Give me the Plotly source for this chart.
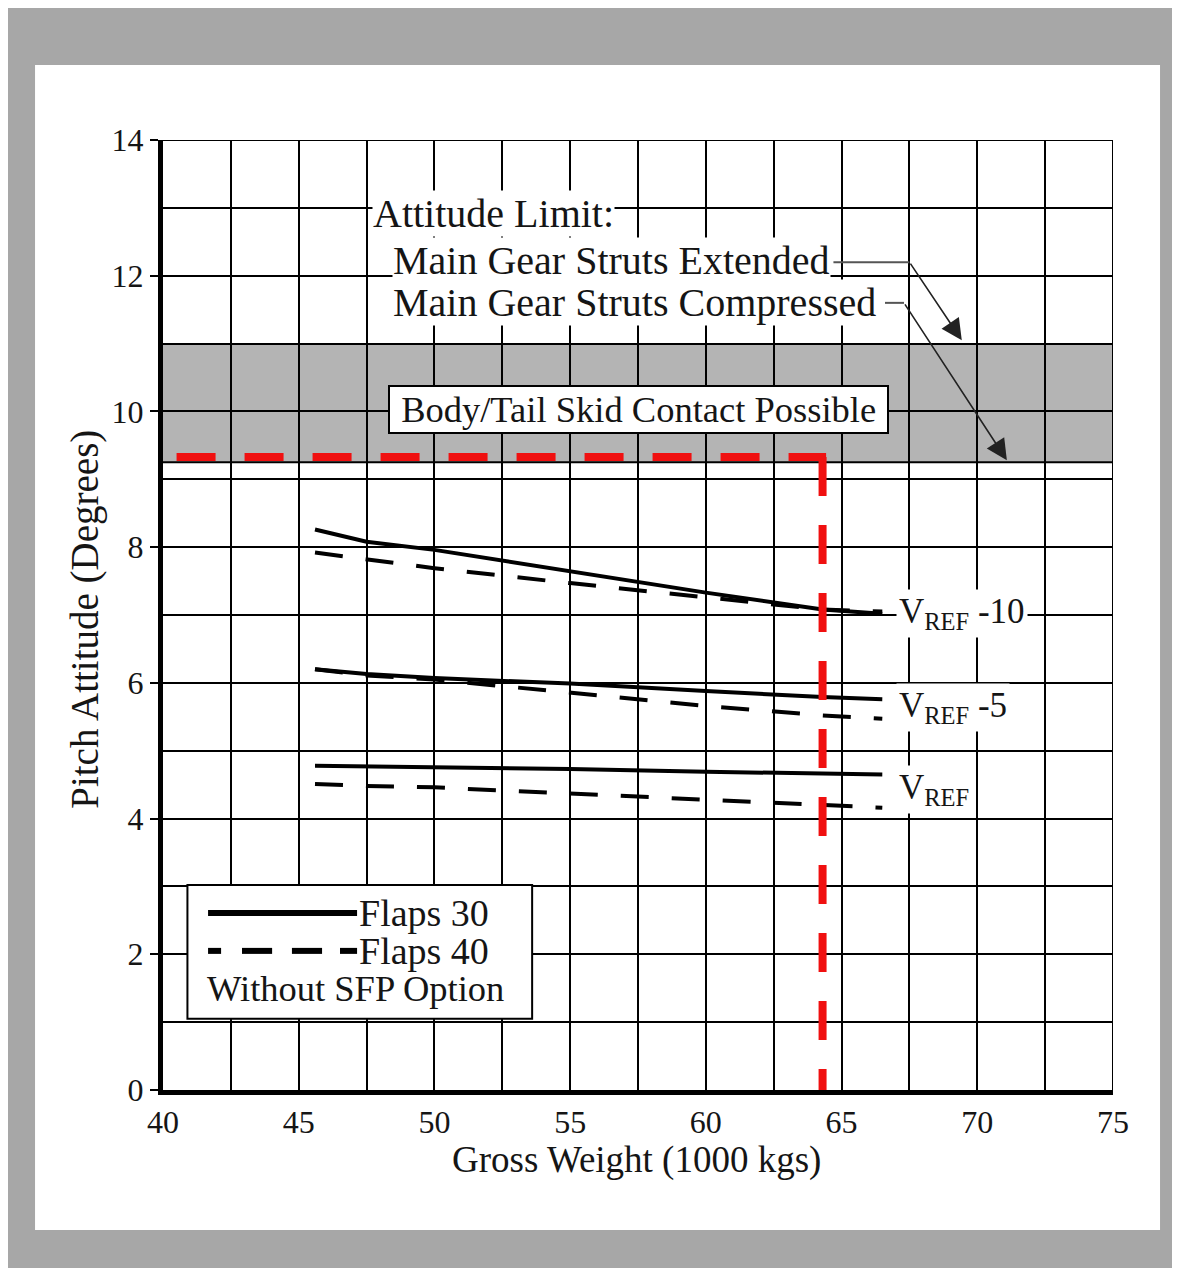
import plotly.graph_objects as go

# ---------------- data ----------------
weights = [45.6, 47.5, 50, 55, 60, 64.3, 66.5]          # Gross weight (1000 kg)
f30_vref10 = [8.26, 8.08, 7.96, 7.65, 7.33, 7.08, 7.02]
f40_vref10 = [7.92, 7.82, 7.69, 7.47, 7.26, 7.08, 7.05]
f30_vref5 = [6.20, 6.13, 6.07, 5.99, 5.88, 5.79, 5.76]
f40_vref5 = [6.20, 6.11, 6.05, 5.85, 5.66, 5.52, 5.47]
f30_vref = [4.78, 4.77, 4.76, 4.73, 4.69, 4.66, 4.65]
f40_vref = [4.51, 4.48, 4.46, 4.37, 4.27, 4.19, 4.16]

limit_pitch = 9.33          # pitch attitude limit (deg)
limit_weight = 64.3         # gross weight (1000 kg)
limit_x_start = 40.5
limit_x_end = 64.43

band_low, band_high = 9.25, 11.0

x_ticks = [40, 45, 50, 55, 60, 65, 70, 75]
y_ticks = [0, 2, 4, 6, 8, 10, 12, 14]

curve_labels = ["V<sub>REF</sub> -10", "V<sub>REF</sub> -5", "V<sub>REF</sub>"]
curve_label_y = [7.02, 5.63, 4.43]

FONT = "Liberation Serif"
INK = "#151515"

fig = go.Figure()

solid = dict(color="black", width=4)
dashed = dict(color="black", width=4, dash="28px,23px")
for ys, ln in [(f30_vref10, solid), (f40_vref10, dashed),
               (f30_vref5, solid), (f40_vref5, dashed),
               (f30_vref, solid), (f40_vref, dashed)]:
    fig.add_trace(go.Scatter(x=weights, y=ys, mode="lines", line=ln,
                             showlegend=False, hoverinfo="skip"))

red = dict(color="#f01010", width=8, dash="39px,29px")
fig.add_trace(go.Scatter(x=[limit_x_start, limit_x_end], y=[limit_pitch, limit_pitch],
                         mode="lines", line=red, showlegend=False, hoverinfo="skip"))
fig.add_trace(go.Scatter(x=[limit_weight, limit_weight], y=[limit_pitch, 0],
                         mode="lines", line=red, showlegend=False, hoverinfo="skip"))

shapes = []
# white panel
shapes.append(dict(type="rect", xref="paper", yref="paper",
                   x0=-0.1347, x1=1.0495, y0=-0.1474, y1=1.0789,
                   fillcolor="white", line=dict(width=0), layer="below"))
# grey band
shapes.append(dict(type="rect", xref="x", yref="y", x0=40, x1=75,
                   y0=band_low, y1=band_high, fillcolor="#b4b4b4",
                   line=dict(width=0), layer="below"))
shapes.append(dict(type="line", xref="x", yref="y", x0=40, x1=75,
                   y0=band_low, y1=band_low, line=dict(color="black", width=2),
                   layer="between"))
# top / right borders
shapes.append(dict(type="line", xref="x", yref="y", x0=40, x1=75, y0=14, y1=14,
                   line=dict(color="black", width=2), layer="between"))
shapes.append(dict(type="line", xref="x", yref="y", x0=75, x1=75, y0=0, y1=14,
                   line=dict(color="black", width=2), layer="between"))
# connectors for attitude limit arrows
shapes.append(dict(type="line", xref="x", yref="y", x0=64.7, x1=67.5, y0=12.2, y1=12.2,
                   line=dict(color="#555555", width=2), layer="above"))
shapes.append(dict(type="line", xref="x", yref="y", x0=66.6, x1=67.3, y0=11.6, y1=11.6,
                   line=dict(color="#555555", width=2), layer="above"))
# legend box
shapes.append(dict(type="rect", xref="x", yref="y", x0=40.9, x1=53.6, y0=1.05, y1=3.02,
                   fillcolor="white", line=dict(color="black", width=2), layer="above"))
shapes.append(dict(type="line", xref="x", yref="y", x0=41.66, x1=47.15, y0=2.61, y1=2.61,
                   line=dict(color="black", width=6), layer="above"))
for a, b in [(41.66, 42.14), (42.91, 44.02), (44.75, 45.86), (46.52, 47.15)]:
    shapes.append(dict(type="line", xref="x", yref="y", x0=a, x1=b, y0=2.05, y1=2.05,
                       line=dict(color="black", width=6), layer="above"))

ann = []
def txt(x, y, s, size=36, xanchor="left", **kw):
    d = dict(x=x, y=y, xref="x", yref="y", text=s, showarrow=False,
             xanchor=xanchor, yanchor="middle",
             font=dict(family=FONT, size=size, color=INK), **kw)
    ann.append(d)

txt(47.7, 12.92, "Attitude Limit:", size=40, bgcolor="white", borderpad=0)
txt(48.44, 12.22, "Main Gear Struts Extended", size=40, bgcolor="white", borderpad=0)
txt(48.44, 11.6, "Main Gear Struts Compressed", size=40, bgcolor="white", borderpad=0)
txt(57.5, 10.03, "\u00a0Body/Tail Skid Contact Possible\u00a0", size=36.5, xanchor="center",
    bgcolor="white", bordercolor="black", borderwidth=2, borderpad=2)
for s, yv in zip(curve_labels, curve_label_y):
    txt(67.0, yv, s, size=35, bgcolor="white", borderpad=2)
txt(47.15, 2.61, "Flaps 30", size=38)
txt(47.15, 2.05, "Flaps 40", size=38)
txt(41.55, 1.5, "Without SFP Option", size=36.5)

# arrows
for (tx, ty, sx, sy) in [(69.43, 11.05, 67.5, 12.2), (71.09, 9.28, 67.3, 11.6)]:
    ann.append(dict(x=tx, y=ty, ax=sx, ay=sy, xref="x", yref="y", axref="x", ayref="y",
                    text="", showarrow=True, arrowhead=2, arrowsize=2.6,
                    arrowwidth=1.6, arrowcolor="#222222"))

# axis titles
ann.append(dict(x=0.498, y=-0.0737, xref="paper", yref="paper",
                text="Gross Weight (1000 kgs)", showarrow=False,
                xanchor="center", yanchor="middle",
                font=dict(family=FONT, size=37, color=INK)))
ann.append(dict(x=-0.0821, y=0.495, xref="paper", yref="paper",
                text="Pitch Attitude (Degrees)", showarrow=False, textangle=-90,
                xanchor="center", yanchor="middle",
                font=dict(family=FONT, size=39, color=INK)))

fig.update_layout(
    width=1172, height=1260, autosize=False,
    margin=dict(l=155, r=67, t=132, b=178),
    paper_bgcolor="#a7a7a7", plot_bgcolor="white",
    shapes=shapes, annotations=ann, showlegend=False,
    xaxis=dict(range=[40, 75], tickvals=x_ticks, ticktext=[str(v) for v in x_ticks],
               showgrid=True, gridcolor="black", gridwidth=2, zeroline=False,
               showline=True, linecolor="black", linewidth=5, ticks="",
               ticklabelstandoff=0,
               tickfont=dict(family=FONT, size=32, color=INK),
               minor=dict(tick0=40, dtick=2.5, showgrid=True, gridcolor="black",
                          gridwidth=2, ticks="")),
    yaxis=dict(range=[0, 14], tickvals=y_ticks, ticktext=[str(v) for v in y_ticks],
               showgrid=True, gridcolor="black", gridwidth=2, zeroline=False,
               showline=True, linecolor="black", linewidth=5,
               ticks="outside", ticklen=8, tickwidth=2, tickcolor="black",
               tickfont=dict(family=FONT, size=32, color=INK),
               minor=dict(tick0=0, dtick=1, showgrid=True, gridcolor="black",
                          gridwidth=2, ticks="")),
)

fig.write_html("out.html")
